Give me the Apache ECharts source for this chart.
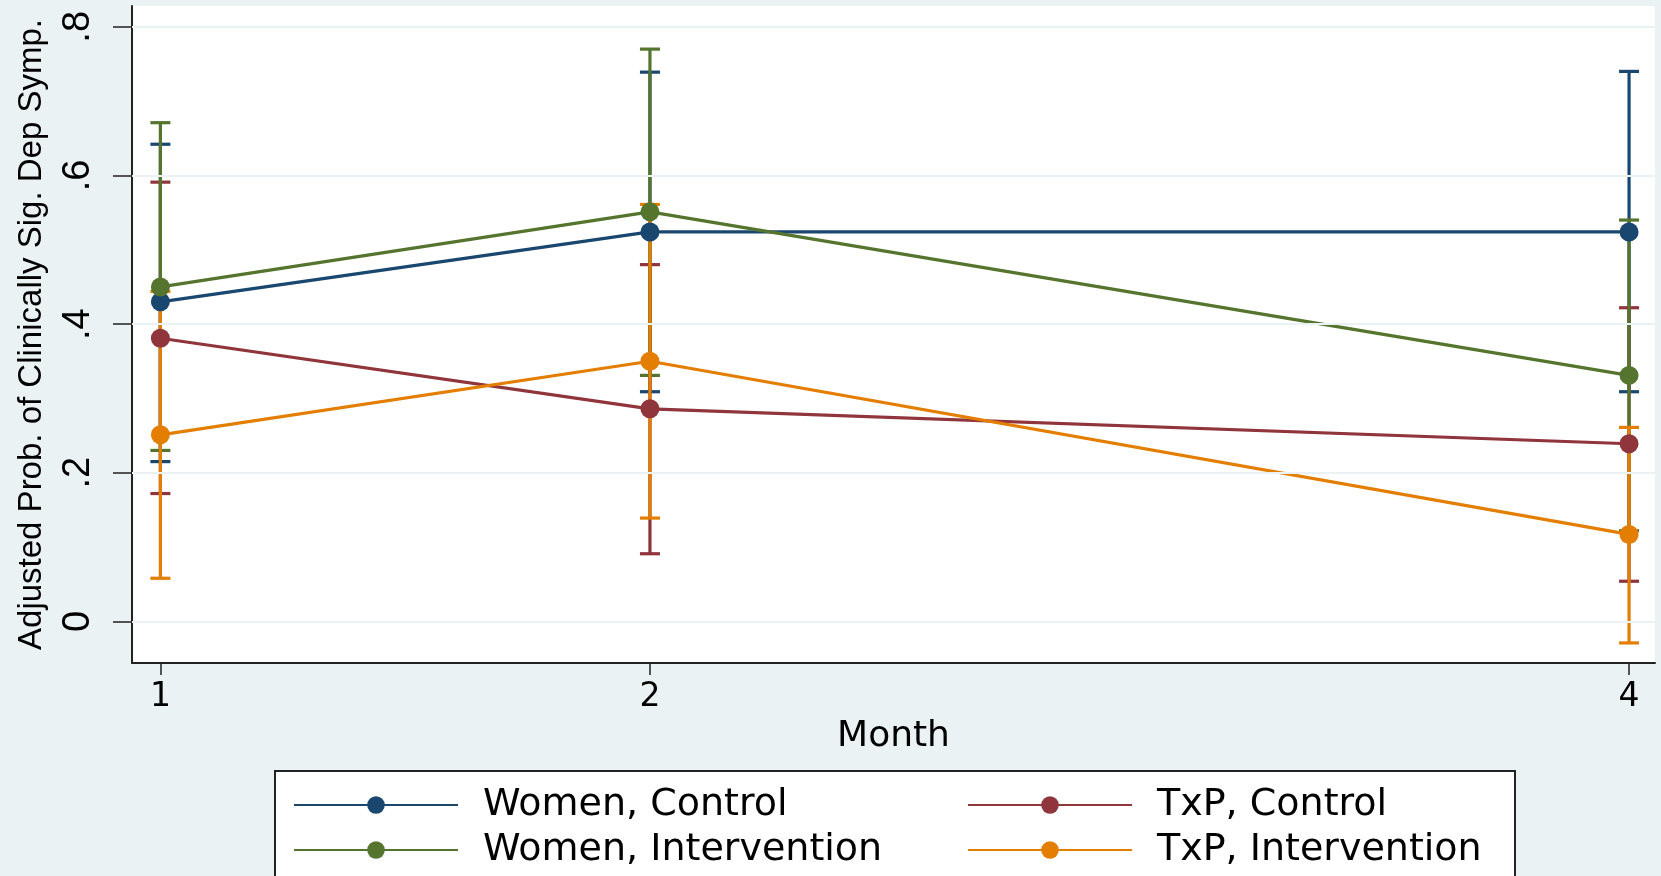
<!DOCTYPE html>
<html>
<head>
<meta charset="utf-8">
<script src="https://cdn.jsdelivr.net/npm/echarts@6/dist/echarts.min.js"></script>
<style>
  html, body { margin: 0; padding: 0; background: #eaf2f3; }
  #chart { width: 1661px; height: 876px; }
</style>
</head>
<body>
<div id="chart"></div>
<script>
// ---- data ----
const months = [1, 2, 4];
const seriesNames = ['Women, Control', 'TxP, Control', 'Women, Intervention', 'TxP, Intervention'];
const womenControl   = [0.430, 0.524, 0.524];
const womenControlLo = [0.215, 0.309, 0.309];
const womenControlHi = [0.642, 0.739, 0.740];
const txpControl     = [0.381, 0.286, 0.239];
const txpControlLo   = [0.172, 0.091, 0.054];
const txpControlHi   = [0.591, 0.480, 0.422];
const womenInterv    = [0.450, 0.551, 0.331];
const womenIntervLo  = [0.230, 0.331, 0.122];
const womenIntervHi  = [0.671, 0.770, 0.540];
const txpInterv      = [0.251, 0.350, 0.117];
const txpIntervLo    = [0.058, 0.139, -0.029];
const txpIntervHi    = [0.444, 0.561, 0.261];
const yTickValues = [0, 0.2, 0.4, 0.6, 0.8];
const yTickLabels = ['0', '.2', '.4', '.6', '.8'];
const xTickValues = [1, 2, 4];
const xTickLabels = ['1', '2', '4'];

// ---- styles ----
const colors = ['#1a476f', '#90353b', '#55752f', '#e37e00'];
const means = [womenControl, txpControl, womenInterv, txpInterv];
const los = [womenControlLo, txpControlLo, womenIntervLo, txpIntervLo];
const his = [womenControlHi, txpControlHi, womenIntervHi, txpIntervHi];
const hFont = "'DejaVu Sans', sans-serif";
const vFont = "'Liberation Sans', Arial, sans-serif";

const chart = echarts.init(document.getElementById('chart'), null, { renderer: 'canvas' });

const series = [];
// gridlines through the axis scale
series.push({
  type: 'line', data: [], silent: true, z: 1,
  markLine: {
    silent: true, symbol: ['none', 'none'], label: { show: false },
    lineStyle: { color: '#eaf2f3', width: 2, type: 'solid' },
    data: yTickValues.map(v => ({ yAxis: v }))
  }
});
// CI caps
seriesNames.forEach((name, k) => {
  series.push({
    type: 'custom', name: name + ' CI', z: 2, silent: true,
    data: months.map((m, i) => [m, los[k][i], his[k][i]]),
    encode: { x: 0, y: [1, 2] },
    renderItem: function (params, api) {
      const x = api.value(0);
      const pLo = api.coord([x, api.value(1)]);
      const pHi = api.coord([x, api.value(2)]);
      const hw = 10;
      const st = { stroke: colors[k], lineWidth: 3.2 };
      return {
        type: 'group',
        children: [
          { type: 'line', shape: { x1: pLo[0], y1: pLo[1], x2: pHi[0], y2: pHi[1] }, style: st },
          { type: 'line', shape: { x1: pLo[0] - hw, y1: pLo[1], x2: pLo[0] + hw, y2: pLo[1] }, style: st },
          { type: 'line', shape: { x1: pHi[0] - hw, y1: pHi[1], x2: pHi[0] + hw, y2: pHi[1] }, style: st }
        ]
      };
    }
  });
});
// connected lines
seriesNames.forEach((name, k) => {
  series.push({
    type: 'line', name: name, z: 3,
    data: months.map((m, i) => [m, means[k][i]]),
    symbol: 'circle', symbolSize: 19, showSymbol: true,
    lineStyle: { color: colors[k], width: 3.2 },
    itemStyle: { color: colors[k] },
    emphasis: { disabled: true },
    animation: false
  });
});

const legendCommon = {
  orient: 'vertical', itemWidth: 164, itemHeight: 22, itemGap: 7, z: 10,
  selectedMode: false,
  textStyle: { fontFamily: hFont, fontSize: 38, color: '#000' }
};

chart.setOption({
  backgroundColor: '#eaf2f3',
  animation: false,
  grid: {
    left: 132, top: 6, width: 1523, height: 657,
    outerBoundsMode: 'none', containLabel: false,
    show: true, backgroundColor: '#ffffff', borderWidth: 0
  },
  xAxis: {
    type: 'value', min: 0.942, max: 4.053,
    name: 'Month', nameLocation: 'middle', nameGap: 53,
    nameTextStyle: { fontFamily: hFont, fontSize: 36, color: '#000' },
    axisLine: { show: true, onZero: false, lineStyle: { color: '#222', width: 2 } },
    axisTick: { show: true, length: 12, customValues: xTickValues, lineStyle: { color: '#222', width: 1.5 } },
    axisLabel: {
      customValues: xTickValues, margin: 18,
      fontFamily: hFont, fontSize: 33, color: '#000',
      formatter: v => xTickLabels[xTickValues.indexOf(v)] ?? ''
    },
    splitLine: { show: false }
  },
  yAxis: {
    type: 'value', min: -0.056, max: 0.828,
    name: 'Adjusted Prob. of Clinically Sig. Dep Symp.', nameLocation: 'middle', nameGap: 84,
    nameRotate: 90,
    nameTextStyle: { fontFamily: vFont, fontSize: 33, color: '#000' },
    axisLine: { show: true, onZero: false, lineStyle: { color: '#222', width: 2 } },
    axisTick: { show: true, length: 19, customValues: yTickValues, lineStyle: { color: '#222', width: 1.5 } },
    axisLabel: {
      customValues: yTickValues, rotate: 90, margin: 34,
      fontFamily: vFont, fontSize: 38, color: '#000',
      formatter: v => yTickLabels[yTickValues.indexOf(v)] ?? ''
    },
    splitLine: { show: false }
  },
  graphic: [{
    type: 'rect', z: 1, silent: true,
    shape: { x: 275, y: 771, width: 1240, height: 140 },
    style: { fill: '#ffffff', stroke: '#222', lineWidth: 2 }
  }],
  legend: [
    Object.assign({}, legendCommon, {
      left: 288, top: 781, data: ['Women, Control', 'Women, Intervention'],
      textStyle: Object.assign({}, legendCommon.textStyle, { padding: [0, 0, 0, 20] })
    }),
    Object.assign({}, legendCommon, {
      left: 962, top: 781, data: ['TxP, Control', 'TxP, Intervention'],
      textStyle: Object.assign({}, legendCommon.textStyle, { padding: [0, 0, 0, 20] })
    })
  ],
  series: series
});
</script>
</body>
</html>
